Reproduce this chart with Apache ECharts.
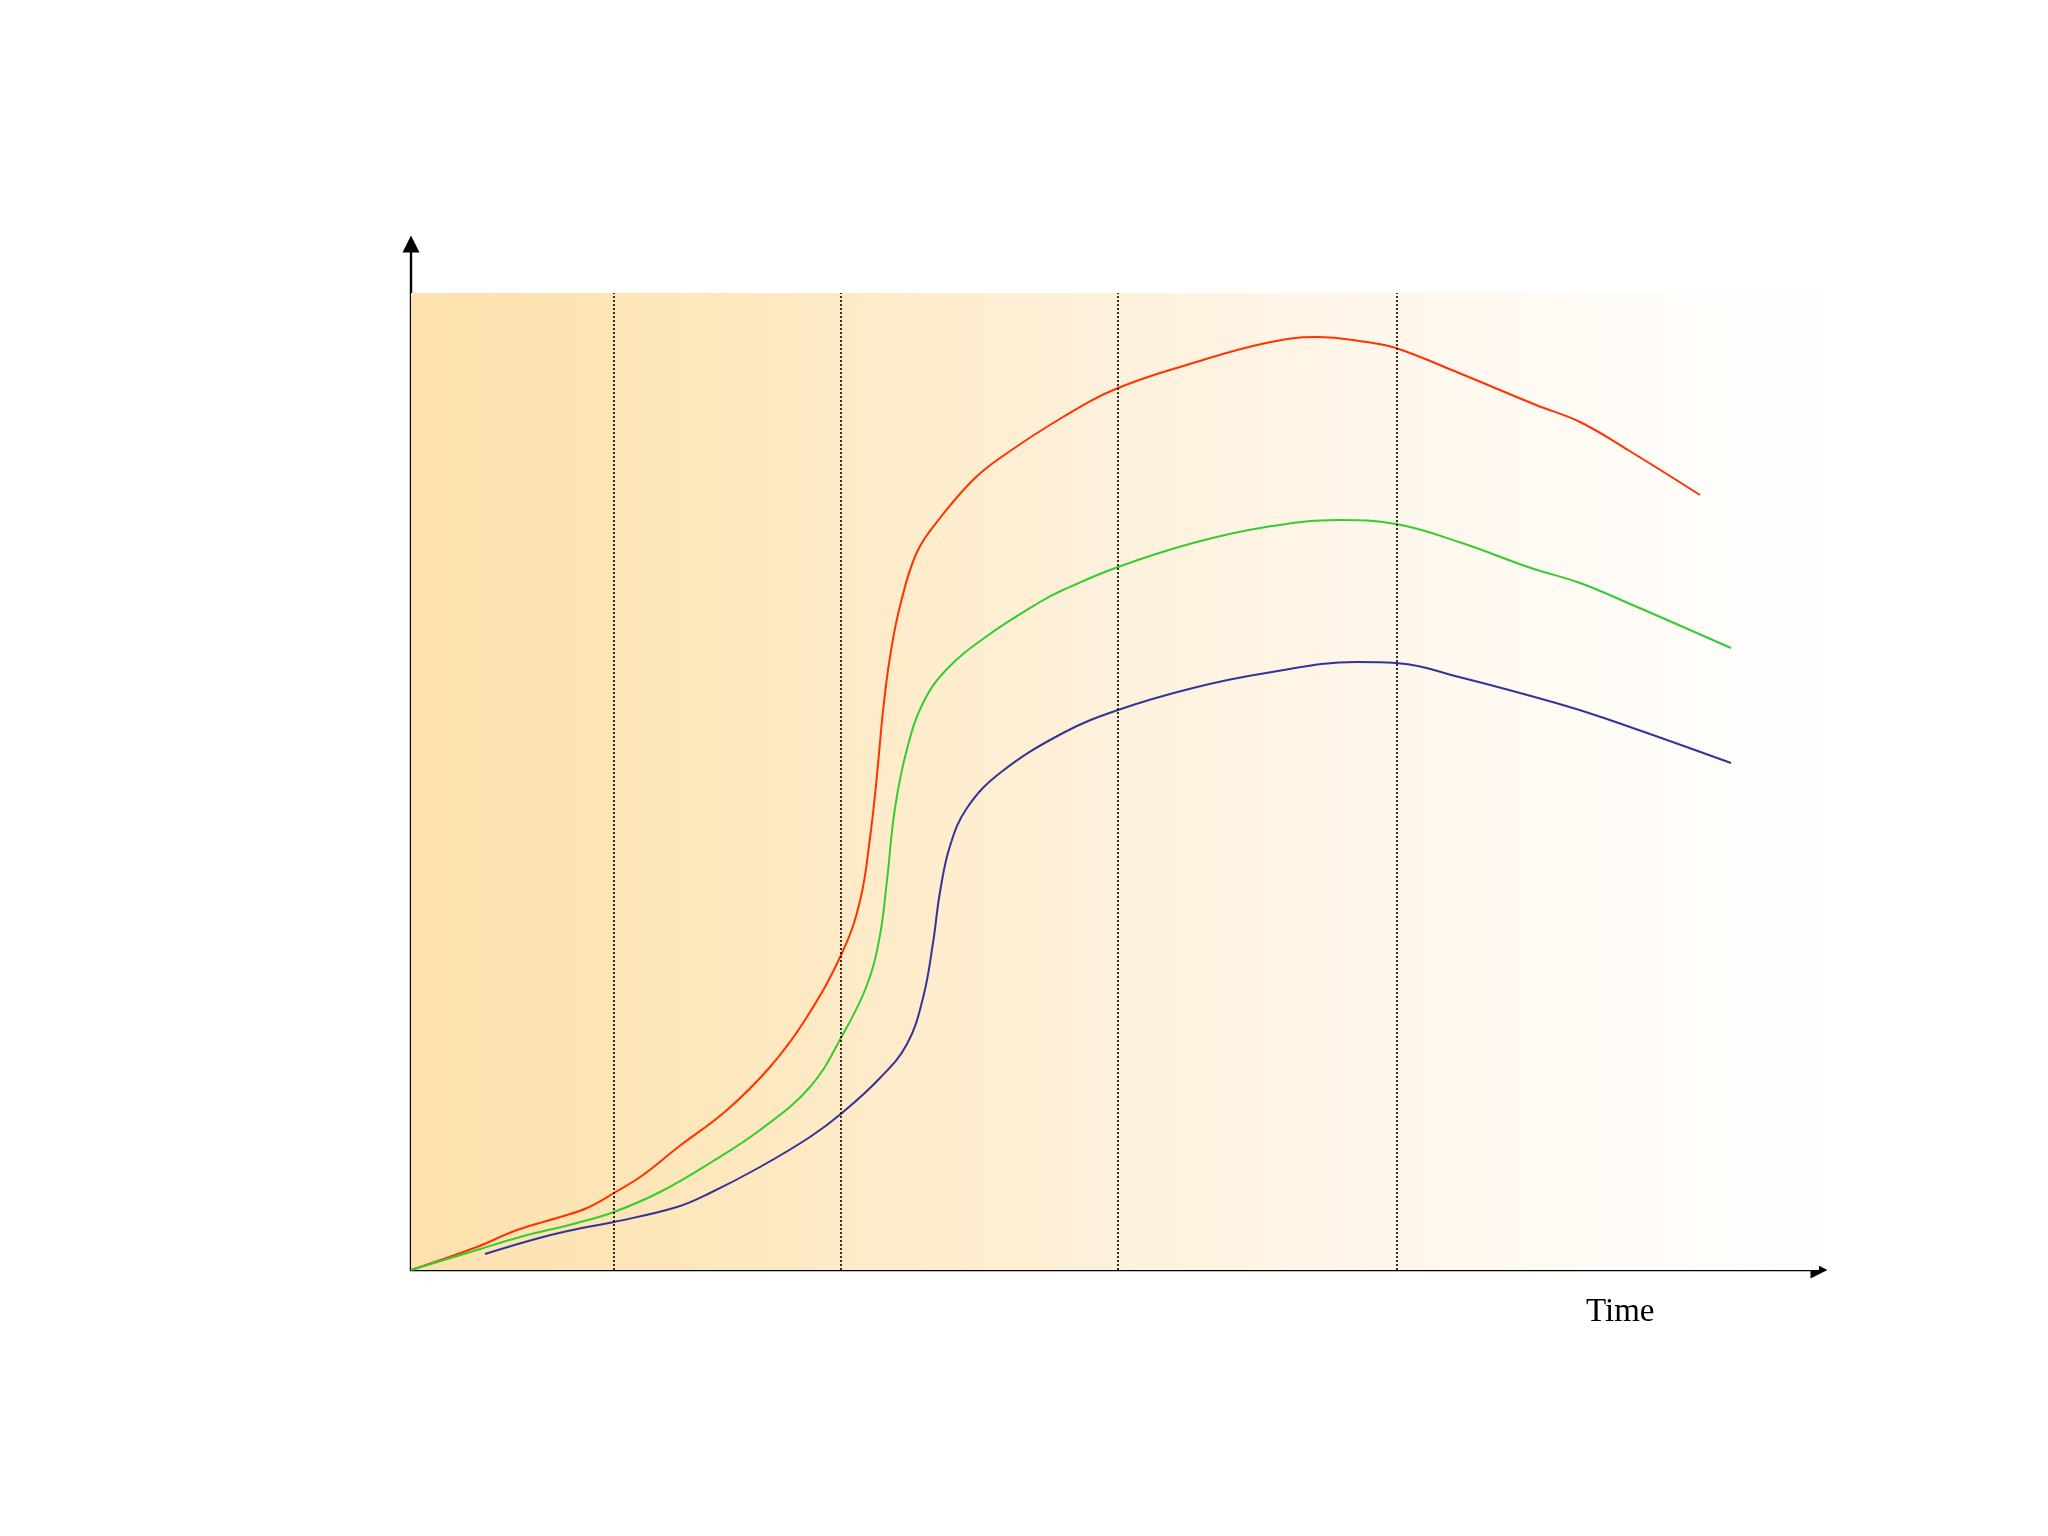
<!DOCTYPE html>
<html>
<head>
<meta charset="utf-8">
<script src="https://cdn.jsdelivr.net/npm/echarts@6/dist/echarts.min.js"></script>
<style>
  html, body { margin: 0; padding: 0; background: #ffffff; }
  #chart { width: 2048px; height: 1536px; }
</style>
</head>
<body>
<div id="chart"></div>
<script>
// Axis extents (arbitrary units)
const X_MAX = 140.8;
const Y_MAX = 102.6;
const BAND_TOP = 97.7;            // top of the shaded background band
const phaseBoundaries = [20.3, 43.0, 70.7, 98.6];  // dotted vertical lines
const xAxisTitle = 'Time';

// Red curve [time, value]
const redSeries = [
  [0, 0], [6.6, 2.3], [10.6, 4.0], [14.9, 5.3], [17.6, 6.2], [20.3, 7.7],
  [23.2, 9.5], [26.6, 12.2], [31.6, 16.0], [35.9, 20.3], [39.4, 25.0],
  [43.1, 31.7], [44.9, 36.9], [45.9, 43.2], [46.6, 49.5], [47.2, 55.9],
  [47.9, 61.3], [48.9, 66.4], [50.6, 71.8], [52.9, 75.2], [56.2, 79.0],
  [58.9, 81.2], [65.2, 85.3], [70.7, 88.2], [78.2, 90.7], [85.5, 92.7],
  [90.5, 93.3], [95.6, 92.8], [98.5, 92.2], [104.8, 89.7], [112.5, 86.5],
  [116.9, 84.8], [121.7, 82.0], [128.9, 77.5]
];

// Green curve
const greenSeries = [
  [0, 0], [6.6, 2.0], [10.9, 3.3], [16.6, 4.7], [20.3, 5.8], [24.9, 7.8],
  [29.9, 10.7], [34.9, 14.0], [39.9, 18.3], [43.1, 23.4], [45.6, 28.5],
  [46.9, 33.5], [47.6, 39.0], [48.4, 46.2], [49.6, 52.1], [51.2, 56.7],
  [53.6, 60.1], [57.6, 63.4], [62.9, 66.8], [65.2, 68.0], [70.7, 70.3],
  [78.2, 72.7], [85.5, 74.3], [92.7, 75.0], [98.5, 74.6], [104.8, 72.8],
  [112.0, 70.2], [116.9, 68.7], [121.7, 66.7], [132.0, 62.2]
];

// Blue curve
const blueSeries = [
  [7.4, 1.6], [13.2, 3.3], [17.6, 4.3], [20.3, 4.8], [26.6, 6.3], [29.9, 7.7],
  [34.9, 10.3], [39.9, 13.3], [43.1, 15.7], [46.9, 19.2], [49.6, 22.6],
  [51.2, 27.2], [52.2, 32.7], [52.9, 37.8], [53.9, 42.4], [55.6, 46.2],
  [58.9, 49.7], [65.2, 53.7], [70.7, 56.0], [78.2, 58.2], [85.5, 59.7],
  [94.6, 60.8], [98.5, 60.7], [104.8, 59.3], [114.5, 56.7], [119.3, 55.2],
  [132.0, 50.7]
];

const chart = echarts.init(document.getElementById('chart'), null, { renderer: 'canvas' });

const axisCommon = {
  type: 'value',
  min: 0,
  axisLine: {
    show: true,
    onZero: false,
    symbol: ['none', 'triangle'],
    symbolSize: [17, 17],
    lineStyle: { color: '#000000', width: 2.4 }
  },
  axisTick: { show: false },
  axisLabel: { show: false },
  splitLine: { show: false }
};

const lineBase = {
  type: 'line',
  showSymbol: false,
  smooth: 0.4,
  silent: true,
  z: 3
};

chart.setOption({
  backgroundColor: '#ffffff',
  animation: false,
  title: {
    text: xAxisTitle,
    left: 1586,
    top: 1296,
    padding: 0,
    textStyle: {
      fontFamily: 'Liberation Serif, Times New Roman, serif',
      fontSize: 33,
      fontWeight: 'normal',
      color: '#000000'
    }
  },
  grid: { left: 411, right: 229, top: 244, bottom: 266, containLabel: false },
  xAxis: Object.assign({}, axisCommon, { max: X_MAX }),
  yAxis: Object.assign({}, axisCommon, { max: Y_MAX }),
  series: [
    {
      type: 'line',
      data: [],
      silent: true,
      z: 1,
      markArea: {
        silent: true,
        itemStyle: {
          color: new echarts.graphic.LinearGradient(0, 0, 1, 0, [
            { offset: 0.00, color: '#FDE2AE' },
            { offset: 0.144, color: '#FDE5B6' },
            { offset: 0.305, color: '#FEEAC6' },
            { offset: 0.50, color: '#FEF1DC' },
            { offset: 0.70, color: '#FFF7EC' },
            { offset: 0.88, color: '#FFFCF8' },
            { offset: 1.00, color: '#FFFEFD' }
          ])
        },
        data: [[{ xAxis: 0, yAxis: 0 }, { xAxis: X_MAX, yAxis: BAND_TOP }]]
      },
      markLine: {
        silent: true,
        symbol: ['none', 'none'],
        label: { show: false },
        lineStyle: { color: '#000000', type: [2, 2], width: 1.6 },
        data: phaseBoundaries.map(x => [{ coord: [x, 0] }, { coord: [x, BAND_TOP] }])
      }
    },
    Object.assign({}, lineBase, { name: 'red', data: redSeries, lineStyle: { color: '#FF3300', width: 2 } }),
    Object.assign({}, lineBase, { name: 'green', data: greenSeries, lineStyle: { color: '#33CC33', width: 2 } }),
    Object.assign({}, lineBase, { name: 'blue', data: blueSeries, lineStyle: { color: '#333399', width: 2 } })
  ]
});
</script>
</body>
</html>
